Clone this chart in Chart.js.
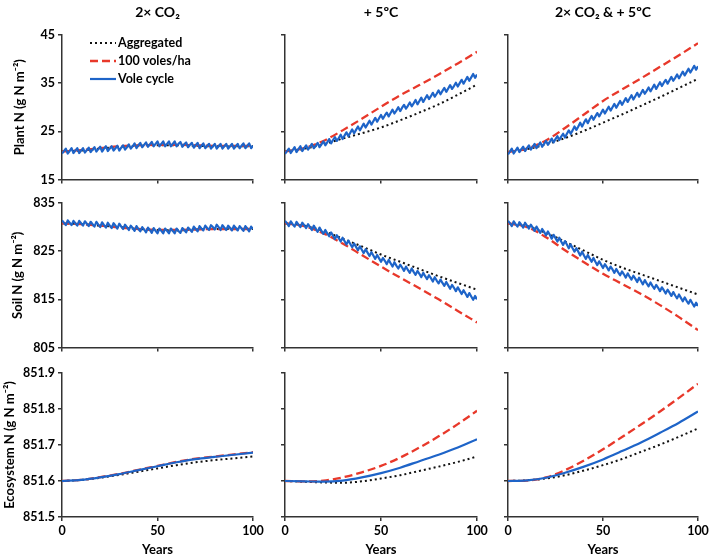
<!DOCTYPE html>
<html>
<head>
<meta charset="utf-8">
<script src="https://cdn.jsdelivr.net/npm/chart.js@4.4.1/dist/chart.umd.min.js"></script>
<style>
  body { margin: 0; width: 709px; height: 558px; overflow: hidden; background: #fff; position: relative; }
  canvas { position: absolute; }
</style>
</head>
<body>
<canvas id="p0"></canvas><canvas id="p1"></canvas><canvas id="p2"></canvas>
<canvas id="p3"></canvas><canvas id="p4"></canvas><canvas id="p5"></canvas>
<canvas id="p6"></canvas><canvas id="p7"></canvas><canvas id="p8"></canvas>
<script>
// categories
const years = Array.from({length: 101}, (_, i) => i);
const decades = [0, 10, 20, 30, 40, 50, 60, 70, 80, 90, 100];
const scenarios = ['2× CO₂', '+ 5ºC', '2× CO₂ & + 5ºC'];
const rowTitles = ['Plant N (g N m⁻²)', 'Soil N (g N m⁻²)', 'Ecosystem N (g N m⁻²)'];
const seriesNames = ['Aggregated', '100 voles/ha', 'Vole cycle'];

// tick labels
const xTicks = [0, 50, 100];
const plantTicks = [15, 25, 35, 45];
const soilTicks = [805, 815, 825, 835];
const ecoTicks = [851.5, 851.6, 851.7, 851.8, 851.9];

// Plant N (smooth series at decades, vole cycle yearly)
const plantCO2Agg = [20.8, 21.0, 21.4, 21.8, 22.0, 22.1, 22.1, 22.0, 21.9, 21.9, 21.9];
const plantCO2Voles = [20.8, 21.1, 21.5, 21.9, 22.1, 22.2, 22.2, 22.1, 22.0, 22.0, 22.0];
const plantCO2Cycle = [20.4,20.9,21.4,20.4,20.9,21.5,20.5,21.0,21.5,20.5,
  21.0,21.5,20.6,21.1,21.6,20.7,21.2,21.7,20.8,21.3,
  21.8,20.8,21.4,21.9,20.9,21.4,21.9,21.0,21.5,22.0,
  21.0,21.6,22.1,21.2,21.7,22.3,21.4,21.9,22.5,21.5,
  22.1,22.6,21.7,22.2,22.7,21.8,22.3,22.8,21.9,22.4,
  22.9,21.9,22.4,22.9,21.9,22.4,22.9,21.9,22.4,22.9,
  21.9,22.4,22.8,21.8,22.3,22.7,21.7,22.2,22.6,21.6,
  22.1,22.6,21.5,22.0,22.5,21.5,22.0,22.4,21.4,21.9,
  22.4,21.4,21.9,22.4,21.4,21.9,22.4,21.4,21.9,22.4,
  21.4,21.9,22.4,21.5,22.0,22.5,21.5,22.0,22.5,21.5,
  22.0];

const plantWarmAgg = [20.8, 21.4, 22.3, 23.5, 24.6, 25.8, 27.3, 28.9, 30.6, 32.6, 34.7];
const plantWarmVoles = [20.8, 21.5, 23.0, 25.2, 27.6, 30.1, 32.5, 34.6, 36.8, 39.1, 41.5];
const plantWarmCycle = [20.3,20.9,21.4,20.5,21.1,21.7,20.7,21.3,21.9,20.9,
  21.5,22.1,21.2,21.8,22.4,21.5,22.0,22.6,21.7,22.3,
  22.9,22.1,22.7,23.4,22.5,23.2,23.8,23.0,23.6,24.3,
  23.4,24.1,24.8,24.0,24.7,25.4,24.6,25.3,26.0,25.2,
  25.9,26.6,25.8,26.5,27.2,26.4,27.1,27.8,27.0,27.7,
  28.4,27.6,28.3,28.9,28.1,28.8,29.5,28.7,29.3,30.0,
  29.2,29.9,30.5,29.7,30.3,31.0,30.2,30.8,31.5,30.6,
  31.3,32.0,31.1,31.8,32.5,31.7,32.3,33.0,32.2,32.8,
  33.5,32.7,33.4,34.0,33.2,33.9,34.6,33.8,34.4,35.1,
  34.3,35.0,35.7,34.9,35.6,36.3,35.5,36.2,36.9,36.1,
  36.8];

const plantBothAgg = [20.7, 21.3, 22.3, 23.6, 25.1, 26.8, 28.5, 30.3, 32.1, 34.0, 35.9];
const plantBothVoles = [20.7, 21.4, 23.1, 25.7, 28.5, 31.3, 33.7, 36.0, 38.4, 40.8, 43.3];
const plantBothCycle = [20.2,20.8,21.4,20.4,21.0,21.6,20.7,21.3,21.8,20.9,
  21.5,22.1,21.2,21.8,22.4,21.5,22.1,22.7,21.8,22.4,
  23.0,22.2,22.8,23.5,22.7,23.4,24.0,23.2,23.9,24.5,
  23.7,24.5,25.2,24.5,25.2,26.0,25.3,26.0,26.8,26.0,
  26.8,27.5,26.7,27.5,28.2,27.4,28.1,28.8,28.1,28.8,
  29.5,28.7,29.4,30.1,29.3,30.0,30.7,29.9,30.6,31.3,
  30.5,31.2,31.9,31.1,31.8,32.5,31.6,32.3,33.0,32.2,
  32.9,33.6,32.8,33.4,34.1,33.3,34.0,34.7,33.8,34.5,
  35.2,34.4,35.1,35.7,34.9,35.6,36.3,35.5,36.1,36.8,
  36.0,36.7,37.4,36.6,37.3,38.0,37.2,37.9,38.6,37.8,
  38.5];

// Soil N
const soilCO2Agg = [830.8, 830.6, 830.3, 830.0, 829.6, 829.4, 829.3, 829.5, 829.6, 829.6, 829.6];
const soilCO2Voles = [830.8, 830.6, 830.3, 829.9, 829.6, 829.4, 829.4, 829.5, 829.6, 829.6, 829.6];
const soilCO2Cycle = [831.4,830.9,830.4,831.4,830.9,830.4,831.3,830.8,830.3,831.3,
  830.8,830.3,831.2,830.7,830.2,831.1,830.6,830.1,831.1,830.5,
  830.0,831.0,830.4,829.9,830.9,830.3,829.8,830.8,830.3,829.7,
  830.7,830.1,829.6,830.5,830.0,829.4,830.3,829.8,829.2,830.2,
  829.6,829.1,830.0,829.5,828.9,829.9,829.4,828.8,829.8,829.2,
  828.7,829.7,829.2,828.7,829.7,829.2,828.7,829.7,829.2,828.7,
  829.7,829.2,828.8,829.8,829.4,828.9,829.9,829.5,829.0,830.1,
  829.6,829.1,830.2,829.7,829.3,830.3,829.8,829.4,830.4,830.0,
  829.5,830.5,830.0,829.4,830.4,829.9,829.4,830.3,829.8,829.3,
  830.3,829.8,829.3,830.2,829.7,829.2,830.2,829.7,829.1,830.1,
  829.6];

const soilWarmAgg = [830.8, 830.3, 829.2, 827.6, 826.0, 824.3, 822.8, 821.3, 819.8, 818.4, 817.0];
const soilWarmVoles = [830.8, 830.2, 828.7, 826.6, 824.2, 821.8, 819.5, 817.3, 815.0, 812.6, 810.2];
const soilWarmCycle = [831.3,830.8,830.2,831.2,830.6,830.1,831.1,830.5,830.0,830.9,
  830.4,829.8,830.6,830.0,829.4,830.3,829.6,829.0,829.9,829.2,
  828.6,829.4,828.7,828.1,828.9,828.2,827.5,828.3,827.7,827.0,
  827.8,827.1,826.4,827.2,826.5,825.8,826.6,825.9,825.2,826.0,
  825.3,824.6,825.4,824.7,824.0,824.8,824.1,823.4,824.2,823.5,
  822.8,823.6,823.0,822.3,823.2,822.5,821.8,822.7,822.0,821.4,
  822.2,821.6,820.9,821.8,821.1,820.5,821.4,820.7,820.1,820.9,
  820.3,819.6,820.5,819.8,819.2,820.0,819.4,818.7,819.6,818.9,
  818.3,819.1,818.4,817.8,818.6,817.9,817.2,818.0,817.4,816.7,
  817.5,816.8,816.1,816.9,816.2,815.5,816.3,815.6,814.9,815.7,
  815.0];

const soilBothAgg = [830.8, 830.2, 828.8, 827.0, 825.1, 823.2, 821.6, 820.2, 818.8, 817.4, 816.0];
const soilBothVoles = [830.8, 830.0, 827.9, 825.2, 822.7, 820.3, 818.2, 816.1, 813.8, 811.3, 808.6];
const soilBothCycle = [831.3,830.8,830.2,831.2,830.6,830.1,831.0,830.5,829.9,830.9,
  830.3,829.7,830.5,829.9,829.2,830.1,829.4,828.8,829.6,829.0,
  828.3,829.1,828.4,827.6,828.4,827.7,827.0,827.8,827.0,826.3,
  827.1,826.4,825.6,826.4,825.6,824.9,825.6,824.9,824.1,824.9,
  824.1,823.4,824.2,823.5,822.8,823.6,822.8,822.1,822.9,822.2,
  821.5,822.3,821.7,821.0,821.8,821.2,820.5,821.3,820.6,820.0,
  820.8,820.2,819.5,820.4,819.7,819.1,819.9,819.3,818.6,819.5,
  818.8,818.1,819.0,818.3,817.7,818.5,817.8,817.2,818.0,817.4,
  816.7,817.5,816.9,816.2,817.0,816.4,815.7,816.5,815.8,815.2,
  816.0,815.3,814.6,815.4,814.7,814.1,814.9,814.2,813.5,814.3,
  813.6];

// Ecosystem N (all at decades)
const ecoCO2Agg = [851.600, 851.603, 851.609, 851.617, 851.626, 851.635, 851.644, 851.652, 851.658, 851.663, 851.668];
const ecoCO2Voles = [851.600, 851.603, 851.611, 851.620, 851.631, 851.642, 851.653, 851.662, 851.668, 851.674, 851.680];
const ecoCO2Cycle = [851.600, 851.603, 851.610, 851.619, 851.630, 851.641, 851.652, 851.661, 851.667, 851.673, 851.679];

const ecoWarmAgg = [851.600, 851.598, 851.596, 851.595, 851.599, 851.607, 851.616, 851.628, 851.640, 851.653, 851.668];
const ecoWarmVoles = [851.600, 851.599, 851.601, 851.610, 851.624, 851.642, 851.665, 851.693, 851.724, 851.758, 851.795];
const ecoWarmCycle = [851.600, 851.599, 851.598, 851.601, 851.610, 851.622, 851.637, 851.655, 851.673, 851.693, 851.716];

const ecoBothAgg = [851.600, 851.602, 851.607, 851.616, 851.629, 851.644, 851.661, 851.681, 851.701, 851.723, 851.746];
const ecoBothVoles = [851.600, 851.601, 851.610, 851.630, 851.657, 851.688, 851.722, 851.757, 851.793, 851.831, 851.870];
const ecoBothCycle = [851.600, 851.602, 851.609, 851.623, 851.640, 851.660, 851.683, 851.707, 851.734, 851.762, 851.793];

// panel geometry (canvas box and plot area, page pixels)
const cols = [
  {left: 0, width: 272, plotLeft: 62, plotRight: 253},
  {left: 262, width: 232, plotLeft: 285, plotRight: 477},
  {left: 485, width: 228, plotLeft: 508, plotRight: 698}
];
const rows = [
  {top: 0, height: 190, plotTop: 35, plotBottom: 180, yTitlePad: 12},
  {top: 190, height: 168, plotTop: 203, plotBottom: 348, yTitlePad: 10},
  {top: 358, height: 200, plotTop: 373, plotBottom: 517, yTitlePad: 2}
];

const FONT = 'Lato';
const AXIS = '#333333';
const BLACK = '#111111';
const RED = '#e8382a';
const BLUE = '#1e64c8';

const legendPlugin = {
  id: 'insetLegend',
  afterDraw(chart) {
    const {ctx, chartArea} = chart;
    seriesNames.forEach((name, i) => {
      const ds = chart.data.datasets.find(d => d.label === name);
      const y = chartArea.top + 8 + i * 18;
      const x = chartArea.left + 28;
      ctx.save();
      ctx.strokeStyle = ds.borderColor;
      ctx.lineWidth = ds.borderWidth;
      ctx.setLineDash(ds.borderDash || []);
      ctx.beginPath();
      ctx.moveTo(x, y);
      ctx.lineTo(x + 26, y);
      ctx.stroke();
      ctx.fillStyle = '#000';
      ctx.font = 'bold 12.5px ' + FONT;
      ctx.textBaseline = 'middle';
      ctx.fillText(name, x + 28, y);
      ctx.restore();
    });
  }
};

function points(xs, ys) {
  return xs.map((x, i) => ({x: x, y: ys[i]}));
}

function panel(idx, row, col, yTicks, agg, voles, cycle, cycleX) {
  const c = cols[col], r = rows[row];
  const canvas = document.getElementById('p' + idx);
  canvas.width = c.width;
  canvas.height = r.height;
  canvas.style.left = c.left + 'px';
  canvas.style.top = r.top + 'px';

  const tickFont = {family: FONT, size: 12.5, weight: 'bold'};
  const titleFont = {family: FONT, size: 13, weight: 'bold'};
  const decimals = row === 2 ? 1 : 0;

  new Chart(canvas, {
    type: 'line',
    data: {
      datasets: [
        {label: 'Vole cycle', data: points(cycleX, cycle), borderColor: BLUE, borderWidth: 2.2,
         tension: row === 2 ? 0.4 : 0, cubicInterpolationMode: row === 2 ? 'monotone' : 'default',
         pointRadius: 0, order: 0, borderJoinStyle: 'round'},
        {label: '100 voles/ha', data: points(decades, voles), borderColor: RED, borderWidth: 2.3,
         borderDash: [8, 4], cubicInterpolationMode: 'monotone', pointRadius: 0, order: 1},
        {label: 'Aggregated', data: points(decades, agg), borderColor: BLACK, borderWidth: 2,
         borderDash: [2, 3], cubicInterpolationMode: 'monotone', pointRadius: 0, order: 2}
      ]
    },
    options: {
      responsive: false,
      animation: false,
      layout: {padding: {
        left: 0,
        right: c.width - (c.plotRight - c.left),
        top: row === 0 ? 0 : r.plotTop - r.top,
        bottom: 0
      }},
      plugins: {
        legend: {display: false},
        tooltip: {enabled: false},
        title: {
          display: row === 0,
          text: scenarios[col],
          fullSize: false,
          color: '#000',
          font: {family: FONT, size: 14, weight: 'bold'},
          padding: {top: 4, bottom: 14.2}
        }
      },
      scales: {
        x: {
          type: 'linear',
          min: xTicks[0],
          max: xTicks[xTicks.length - 1],
          afterBuildTicks: axis => { axis.ticks = xTicks.map(v => ({value: v})); },
          afterFit: axis => { axis.height = r.top + r.height - r.plotBottom; },
          ticks: {
            callback: v => row === 2 ? String(v) : '',
            font: tickFont, color: '#000', padding: 2, maxRotation: 0, autoSkip: false
          },
          grid: {drawOnChartArea: false, drawTicks: true, tickLength: 4, color: AXIS, lineWidth: 1.5},
          border: {display: true, color: AXIS, width: 1.5},
          title: {display: row === 2, text: 'Years', color: '#000',
                  font: titleFont, padding: {top: 0, bottom: 0}}
        },
        y: {
          type: 'linear',
          min: yTicks[0],
          max: yTicks[yTicks.length - 1],
          afterBuildTicks: axis => { axis.ticks = yTicks.map(v => ({value: v})); },
          afterFit: axis => { axis.width = c.plotLeft - c.left; },
          ticks: {
            callback: v => col === 0 ? Number(v).toFixed(decimals) : '',
            font: tickFont, color: '#000', padding: 3
          },
          grid: {drawOnChartArea: false, drawTicks: true, tickLength: 4, color: AXIS, lineWidth: 1.5},
          border: {display: true, color: AXIS, width: 1.5},
          title: {display: col === 0, text: rowTitles[row], color: '#000',
                  font: titleFont, padding: {top: r.yTitlePad, bottom: 0}}
        }
      }
    },
    plugins: idx === 0 ? [legendPlugin] : []
  });
}

panel(0, 0, 0, plantTicks, plantCO2Agg, plantCO2Voles, plantCO2Cycle, years);
panel(1, 0, 1, plantTicks, plantWarmAgg, plantWarmVoles, plantWarmCycle, years);
panel(2, 0, 2, plantTicks, plantBothAgg, plantBothVoles, plantBothCycle, years);
panel(3, 1, 0, soilTicks, soilCO2Agg, soilCO2Voles, soilCO2Cycle, years);
panel(4, 1, 1, soilTicks, soilWarmAgg, soilWarmVoles, soilWarmCycle, years);
panel(5, 1, 2, soilTicks, soilBothAgg, soilBothVoles, soilBothCycle, years);
panel(6, 2, 0, ecoTicks, ecoCO2Agg, ecoCO2Voles, ecoCO2Cycle, decades);
panel(7, 2, 1, ecoTicks, ecoWarmAgg, ecoWarmVoles, ecoWarmCycle, decades);
panel(8, 2, 2, ecoTicks, ecoBothAgg, ecoBothVoles, ecoBothCycle, decades);
</script>
</body>
</html>
